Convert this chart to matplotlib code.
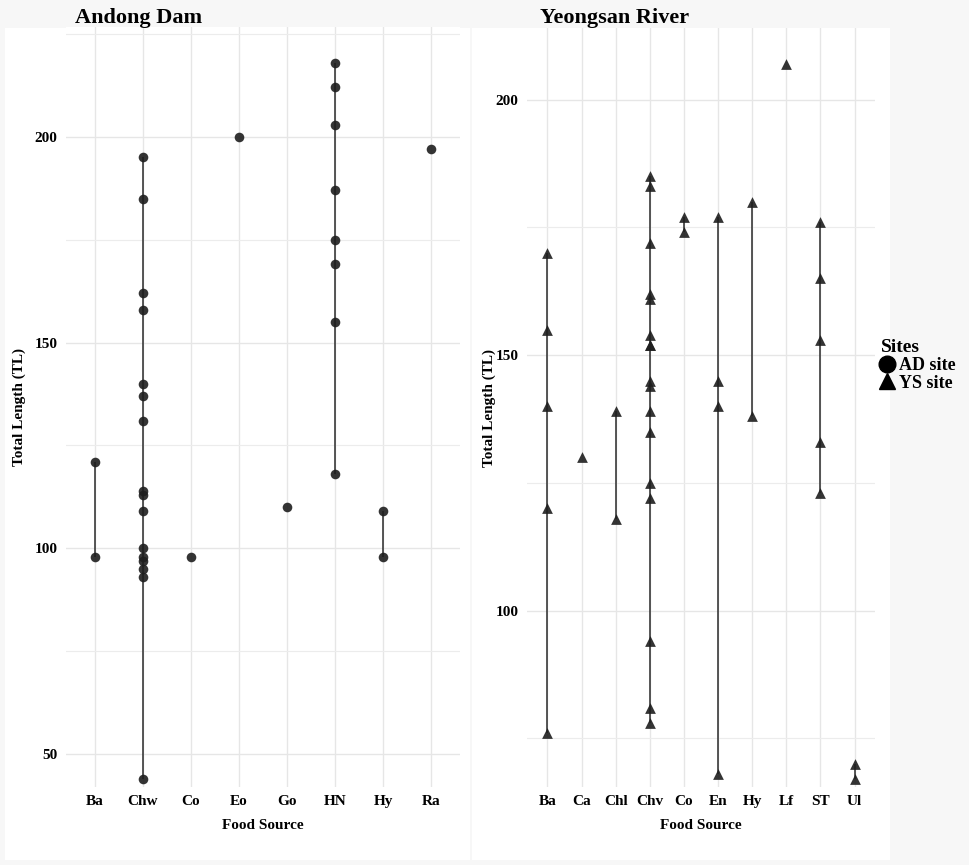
""" Total length by food source, Andong Dam vs Yeongsan River """
import matplotlib.pyplot as plt
from matplotlib.lines import Line2D
from matplotlib.patches import Rectangle
from matplotlib.ticker import FixedLocator

plt.rcParams['font.family'] = ['Liberation Serif', 'DejaVu Serif']
plt.rcParams['font.weight'] = 'bold'

# Andong Dam (AD site)
ad_sources = ['Ba', 'Chw', 'Co', 'Eo', 'Go', 'HN', 'Hy', 'Ra']
ad_ba = [98, 121]
ad_chw = [44, 93, 95, 97, 98, 100, 109, 113, 114, 131, 137, 140, 158, 162, 185, 195]
ad_co = [98]
ad_eo = [200]
ad_go = [110]
ad_hn = [118, 155, 169, 175, 187, 203, 212, 218]
ad_hy = [98, 109]
ad_ra = [197]

# Yeongsan River (YS site)
ys_sources = ['Ba', 'Ca', 'Chl', 'Chv', 'Co', 'En', 'Hy', 'Lf', 'ST', 'Ul']
ys_ba = [76, 120, 140, 155, 170]
ys_ca = [130]
ys_chl = [118, 139]
ys_chv = [78, 81, 94, 122, 125, 135, 139, 144, 145, 152, 152, 154, 161, 162, 172, 183, 185]
ys_co = [174, 177]
ys_en = [68, 140, 145, 177]
ys_hy = [138, 180]
ys_lf = [207]
ys_st = [123, 133, 153, 165, 176]
ys_ul = [67, 70]

ad_values = [ad_ba, ad_chw, ad_co, ad_eo, ad_go, ad_hn, ad_hy, ad_ra]
ys_values = [ys_ba, ys_ca, ys_chl, ys_chv, ys_co, ys_en, ys_hy, ys_lf, ys_st, ys_ul]

W, H = 969, 865
fig = plt.figure(figsize=(W / 100, H / 100), dpi=100, facecolor='#f7f7f7')

# white panel backgrounds like the pasted ggplot panels
fig.patches.append(Rectangle((5 / W, 5 / H), 465 / W, (H - 33) / H, transform=fig.transFigure,
                             facecolor='white', edgecolor='none', zorder=-10))
fig.patches.append(Rectangle((472 / W, 5 / H), 418 / W, (H - 33) / H, transform=fig.transFigure,
                             facecolor='white', edgecolor='none', zorder=-10))


def panel(rect, sources, values, marker, size, ylim, major, minor, title, title_x, ylabelpad):
    ax = fig.add_axes(rect)
    ax.set_facecolor('white')
    for i, vals in enumerate(values):
        if len(vals) > 1:
            ax.vlines(i, min(vals), max(vals), color='#2a2a2a', lw=1.1, zorder=2)
        ax.scatter([i] * len(vals), vals, marker=marker, s=size, color='#1e1e1e',
                   alpha=0.9, linewidths=0, zorder=3)
    ax.set_xlim(-0.6, len(sources) - 0.4)
    ax.set_ylim(*ylim)
    ax.set_xticks(range(len(sources)))
    ax.set_xticklabels(sources, fontsize=11, fontweight='bold')
    ax.yaxis.set_major_locator(FixedLocator(major))
    ax.yaxis.set_minor_locator(FixedLocator(minor))
    ax.set_yticklabels([str(v) for v in major], fontsize=11, fontweight='bold')
    ax.tick_params(axis='both', which='both', length=0)
    ax.tick_params(axis='x', pad=6)
    ax.tick_params(axis='y', pad=6)
    ax.grid(True, which='major', color='#e6e6e6', lw=1.0)
    ax.grid(True, which='minor', axis='y', color='#ececec', lw=0.8)
    ax.set_axisbelow(True)
    for s in ax.spines.values():
        s.set_visible(False)
    ax.set_xlabel('Food Source', fontsize=11, fontweight='bold', labelpad=8)
    ax.set_ylabel('Total Length (TL)', fontsize=11, fontweight='bold', labelpad=ylabelpad)
    fig.text(title_x / W, 1 - 18 / H, title, fontsize=16, fontweight='bold', va='center', ha='left')
    return ax


ax1 = panel([66 / W, 78 / H, 394 / W, 760 / H], ad_sources, ad_values, 'o', 48,
            (42.0, 226.7), [50, 100, 150, 200], [75, 125, 175, 225], 'Andong Dam', 75, 6)
ax2 = panel([527 / W, 78 / H, 348 / W, 759 / H], ys_sources, ys_values, '^', 60,
            (65.5, 214.0), [100, 150, 200], [75, 125, 175], 'Yeongsan River', 540, 0)

handles = [Line2D([], [], marker='o', ls='', color='black', markersize=12),
           Line2D([], [], marker='^', ls='', color='black', markersize=12)]
leg = fig.legend(handles, ['AD site', 'YS site'], title='Sites', loc='upper left',
                 bbox_to_anchor=(881 / W, 1 - 339 / H), frameon=False, handlelength=0.7,
                 handletextpad=0.3, labelspacing=0.05, borderpad=0, borderaxespad=0,
                 prop={'size': 13, 'weight': 'bold'}, alignment='left')
leg.get_title().set_fontsize(14)
leg.get_title().set_fontweight('bold')

fig.savefig('out.png', dpi=100, facecolor=fig.get_facecolor())
